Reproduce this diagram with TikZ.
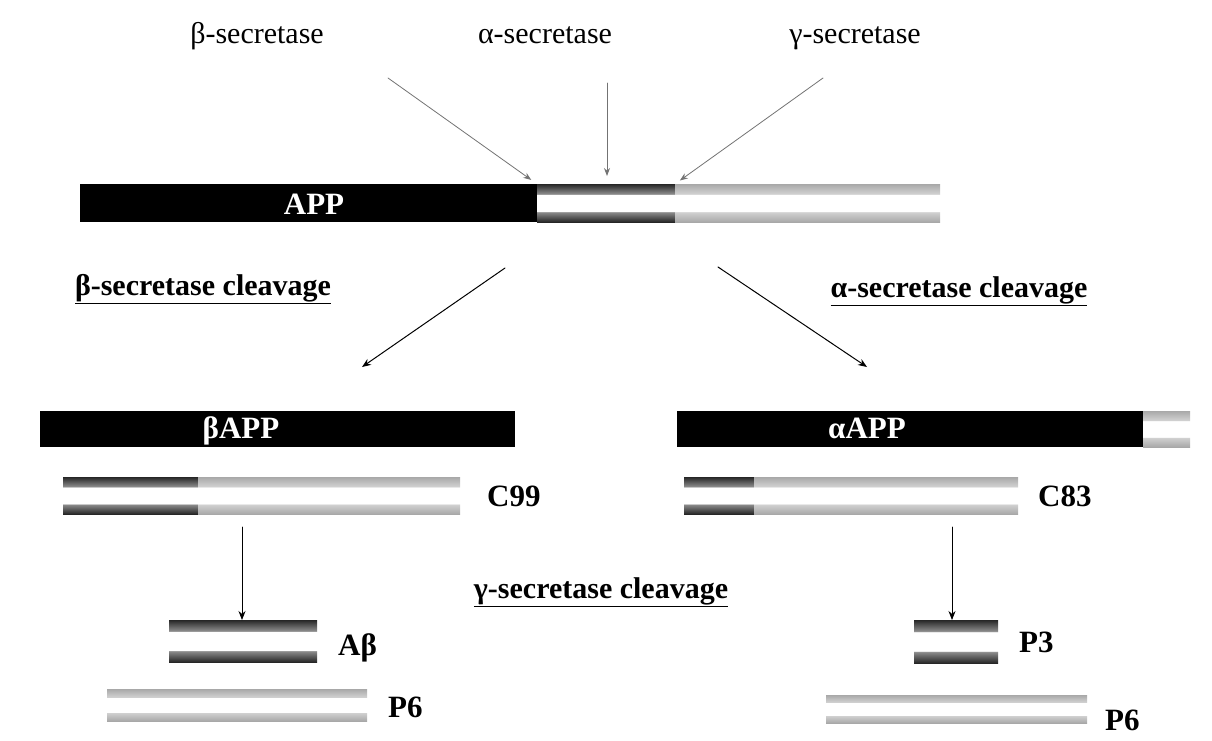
\documentclass[tikz,border=0pt]{standalone}
\usepackage{fontspec}
\setmainfont{Liberation Serif}
\usetikzlibrary{arrows.meta}

% two-band "tube" look of the fragments: dark edges, white core
\pgfdeclareverticalshading{darkcyl}{100bp}{color(0bp)=(black!85); color(25bp)=(black!85); color(38bp)=(black!45); color(39bp)=(white); color(61bp)=(white); color(62bp)=(black!45); color(75bp)=(black!85); color(100bp)=(black!85)}
\pgfdeclareverticalshading{lightcyl}{100bp}{color(0bp)=(black!34); color(25bp)=(black!34); color(38bp)=(black!18); color(39bp)=(white); color(61bp)=(white); color(62bp)=(black!18); color(75bp)=(black!34); color(100bp)=(black!34)}

\begin{document}
\begin{tikzpicture}[x=1pt, y=-1pt, line cap=round,
    bar/.style={inner sep=0pt, outer sep=0pt, anchor=north west},
    blackbar/.style={bar, fill=black},
    darkbar/.style={bar, shade, shading=darkcyl},
    lightbar/.style={bar, shade, shading=lightcyl},
    enzyme/.style={font=\fontsize{30}{36}\selectfont, inner sep=0pt, anchor=base},
    route/.style={font=\fontsize{30}{36}\selectfont\bfseries, inner sep=0pt, anchor=base},
    frag/.style={font=\fontsize{31}{36}\selectfont\bfseries, inner sep=0pt, anchor=west},
    onbar/.style={font=\fontsize{31}{36}\selectfont\bfseries, text=white, inner sep=0pt, anchor=base},
    hit/.style={draw=black!55, line width=0.8pt, -{Stealth[length=8pt,width=6pt]}},
    cut/.style={draw=black, line width=1pt, -{Stealth[length=9pt,width=7pt]}}]
  \useasboundingbox (0,0) rectangle (1212,740);

  % The three secretases.
  \node[enzyme] (bsec) at (257,43) {β-secretase};
  \node[enzyme] (asec) at (545,43) {α-secretase};
  \node[enzyme] (gsec) at (855,43) {γ-secretase};

  % Full-length APP.
  \node[blackbar, minimum width=457pt, minimum height=38pt] (appN) at (80,184) {};
  \node[darkbar, minimum width=138pt, minimum height=38pt] (appAb) at (537,184) {};
  \node[lightbar, minimum width=265pt, minimum height=38pt] (appC) at (675,184) {};
  \node[onbar] (appL) at (314,214) {APP};

  % Where each secretase cuts.
  \coordinate (bsecS) at (388,78);
  \coordinate (asecS) at (607,83);
  \coordinate (gsecS) at (823,78);
  \draw[hit, shorten >=7pt] (bsecS) -- (appN.north east);
  \draw[hit, shorten >=8pt] (asecS) -- (asecS |- appAb.north);
  \draw[hit, shorten >=6pt] (gsecS) -- (appAb.north east);

  % The two routes.
  \node[route] (bcl) at (203,295) {\underline{β-secretase cleavage}};
  \node[route] (acl) at (959,297) {\underline{α-secretase cleavage}};
  \coordinate (bcutS) at (505,268);
  \coordinate (bcutE) at (362,367);
  \coordinate (acutS) at (718,267);
  \coordinate (acutE) at (867,367);
  \draw[cut] (bcutS) -- (bcutE);
  \draw[cut] (acutS) -- (acutE);

  % Soluble ectodomains.
  \node[blackbar, minimum width=475pt, minimum height=36pt] (bapp) at (40,411) {};
  \node[onbar] (bappL) at (241,438) {βAPP};
  \node[blackbar, minimum width=466pt, minimum height=36pt] (aapp) at (677,411) {};
  \node[lightbar, minimum width=47pt, minimum height=36pt] (aappC) at (1143,411) {};
  \node[onbar] (aappL) at (867,438) {αAPP};

  % Membrane-bound stubs.
  \node[darkbar, minimum width=135pt, minimum height=37pt] (c99a) at (63,477) {};
  \node[lightbar, minimum width=262pt, minimum height=37pt] (c99b) at (198,477) {};
  \node[frag] (c99L) at (487,496) {C99};
  \node[darkbar, minimum width=70pt, minimum height=37pt] (c83a) at (684,477) {};
  \node[lightbar, minimum width=264pt, minimum height=37pt] (c83b) at (754,477) {};
  \node[frag] (c83L) at (1038,496) {C83};

  % gamma cut and its products.
  \node[route] (gcl) at (601,598) {\underline{γ-secretase cleavage}};
  \node[darkbar, minimum width=148pt, minimum height=42pt] (ab) at (169,620) {};
  \node[frag] (abL) at (338,648) {Aβ};
  \node[lightbar, minimum width=260pt, minimum height=32pt] (p6a) at (107,689) {};
  \node[frag] (p6aL) at (388,707) {P6};
  \node[darkbar, minimum width=84pt, minimum height=43pt] (p3) at (914,620) {};
  \node[frag] (p3L) at (1019,642) {P3};
  \node[lightbar, minimum width=261pt, minimum height=28pt] (p6b) at (826,695) {};
  \node[frag] (p6bL) at (1105,720) {P6};
  \coordinate (c99cut) at (242,527);
  \coordinate (c83cut) at (952,527);
  \draw[cut, line width=0.8pt] (c99cut) -- (c99cut |- ab.north);
  \draw[cut, line width=0.8pt] (c83cut) -- (c83cut |- p3.north);
\end{tikzpicture}
\end{document}
